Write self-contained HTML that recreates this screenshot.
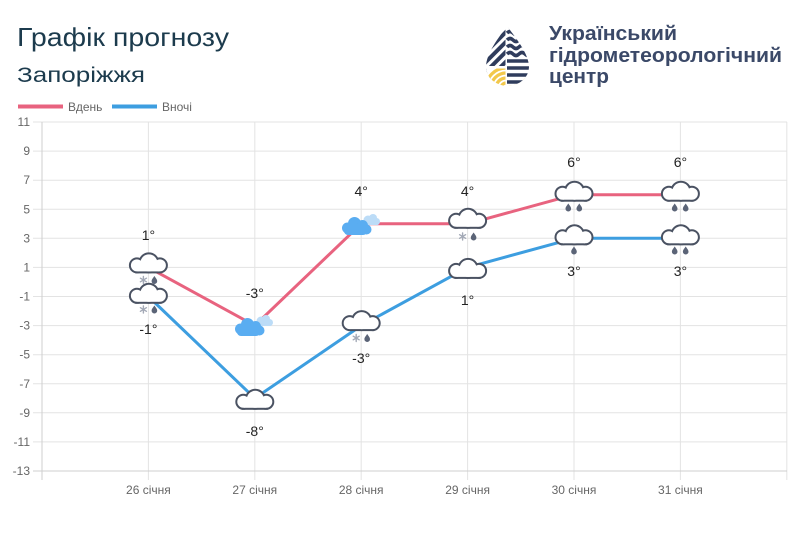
<!DOCTYPE html>
<html><head><meta charset="utf-8"><style>
html,body{margin:0;padding:0;background:#fff;}
svg{display:block;}
</style></head><body>
<svg width="804" height="536" viewBox="0 0 804 536" xmlns="http://www.w3.org/2000/svg" font-family="'Liberation Sans', sans-serif">
<defs>
  <g id="cloud">
    <g stroke="#4a5262" stroke-width="4" fill="#4a5262">
      <rect x="-11" y="2" width="22" height="7"/>
      <circle cx="-11.5" cy="3" r="6"/>
      <circle cx="0.5" cy="0.5" r="8.5"/>
      <circle cx="11.5" cy="3" r="6"/>
    </g>
    <g fill="#fff">
      <rect x="-11" y="2" width="22" height="7"/>
      <circle cx="-11.5" cy="3" r="6"/>
      <circle cx="0.5" cy="0.5" r="8.5"/>
      <circle cx="11.5" cy="3" r="6"/>
    </g>
  </g>
  <path id="drop" d="M0,-4 C1.2,-2.2 2.8,-0.6 2.8,1.2 A2.8,2.8 0 0 1 -2.8,1.2 C-2.8,-0.6 -1.2,-2.2 0,-4Z" fill="#5b6477"/>
  <g id="flake" stroke="#a3a9b6" stroke-width="1.4" stroke-linecap="round">
    <line x1="0" y1="-3.5" x2="0" y2="3.5"/>
    <line x1="-3" y1="-1.8" x2="3" y2="1.8"/>
    <line x1="-3" y1="1.8" x2="3" y2="-1.8"/>
  </g>
  <g id="snowcloud">
    <g fill="#bcdcf7">
      <circle cx="11" cy="-6" r="4.5"/>
      <circle cx="16" cy="-8" r="4"/>
      <circle cx="19.5" cy="-4.5" r="3.5"/>
      <rect x="9" y="-7" width="13" height="6" rx="2"/>
    </g>
    <g fill="#5aadf1">
      <circle cx="-9.5" cy="2" r="5.5"/>
      <circle cx="-2.5" cy="-2.5" r="6.5"/>
      <circle cx="5.5" cy="-0.5" r="5.5"/>
      <circle cx="9.5" cy="3.5" r="5"/>
      <rect x="-13" y="1" width="23" height="8" rx="4"/>
    </g>
  </g>
  <clipPath id="dropclip">
    <path d="M507,26 C500,36 486,53 486,67 A21.5,19 0 0 0 529,67 C529,53 514,36 507,26 Z"/>
  </clipPath>
</defs>

<!-- Titles -->
<text x="17" y="46" font-size="26" fill="#1c3b4d" textLength="212" lengthAdjust="spacingAndGlyphs">Графік прогнозу</text>
<text x="17" y="82" font-size="21" fill="#1c3b4d" textLength="128" lengthAdjust="spacingAndGlyphs">Запоріжжя</text>

<!-- Logo -->
<g clip-path="url(#dropclip)">
  <g fill="#2f3c5c">
    <g transform="rotate(-45 495 50)">
      <rect x="470" y="29" width="50" height="4"/>
      <rect x="470" y="36" width="50" height="4"/>
      <rect x="470" y="43" width="50" height="4"/>
      <rect x="470" y="50" width="50" height="4"/>
      <rect x="470" y="57" width="50" height="4"/>
      <rect x="470" y="64" width="50" height="4"/>
    </g>
  </g>
  <rect x="480" y="66" width="27" height="25" fill="#fff"/>
  <g fill="none" stroke="#f2c84b" stroke-width="3.2">
    <circle cx="506" cy="88" r="5"/>
    <circle cx="506" cy="88" r="10"/>
    <circle cx="506" cy="88" r="15"/>
    <circle cx="506" cy="88" r="20"/>
  </g>
  <rect x="480" y="66" width="27" height="2.5" fill="#fff"/>
  <rect x="505.5" y="20" width="35" height="72" fill="#fff"/>
  <g fill="none" stroke="#2f3c5c" stroke-width="3.5">
    <path d="M507,33 q3,-3 6,0 t6,0 t6,0"/>
    <path d="M507,40 q3,-3 6,0 t6,0 t6,0 t6,0"/>
    <path d="M507,47 q3,-3 6,0 t6,0 t6,0 t6,0"/>
    <path d="M507,54 q3,-3 6,0 t6,0 t6,0 t6,0"/>
    <path d="M507,61 h25"/>
    <path d="M507,68 h25"/>
    <path d="M507,75 h25"/>
    <path d="M507,82 h25"/>
  </g>
</g>
<g font-weight="bold" fill="#3b4968" font-size="20">
  <text x="549" y="40" textLength="128" lengthAdjust="spacingAndGlyphs">Український</text>
  <text x="549" y="62" textLength="233" lengthAdjust="spacingAndGlyphs">гідрометеорологічний</text>
  <text x="549" y="83" textLength="60" lengthAdjust="spacingAndGlyphs">центр</text>
</g>

<!-- Legend -->
<line x1="18" y1="106.5" x2="63" y2="106.5" stroke="#e8637f" stroke-width="4"/>
<text x="68" y="111" font-size="12" fill="#666">Вдень</text>
<line x1="112" y1="106.5" x2="157" y2="106.5" stroke="#3d9ee0" stroke-width="4"/>
<text x="162" y="111" font-size="12" fill="#666">Вночі</text>

<!-- Grid -->
<g stroke="#e3e3e3" stroke-width="1">
  <line x1="33" y1="122" x2="787" y2="122"/>
  <line x1="33" y1="151.1" x2="787" y2="151.1"/>
  <line x1="33" y1="180.2" x2="787" y2="180.2"/>
  <line x1="33" y1="209.3" x2="787" y2="209.3"/>
  <line x1="33" y1="238.3" x2="787" y2="238.3"/>
  <line x1="33" y1="267.4" x2="787" y2="267.4"/>
  <line x1="33" y1="296.5" x2="787" y2="296.5"/>
  <line x1="33" y1="325.6" x2="787" y2="325.6"/>
  <line x1="33" y1="354.7" x2="787" y2="354.7"/>
  <line x1="33" y1="383.8" x2="787" y2="383.8"/>
  <line x1="33" y1="412.8" x2="787" y2="412.8"/>
  <line x1="33" y1="441.9" x2="787" y2="441.9"/>
  <line x1="148.4" y1="122" x2="148.4" y2="480"/>
  <line x1="254.8" y1="122" x2="254.8" y2="480"/>
  <line x1="361.2" y1="122" x2="361.2" y2="480"/>
  <line x1="467.6" y1="122" x2="467.6" y2="480"/>
  <line x1="574" y1="122" x2="574" y2="480"/>
  <line x1="680.4" y1="122" x2="680.4" y2="480"/>
  <line x1="786.8" y1="122" x2="786.8" y2="480"/>
</g>
<g stroke="#cfcfcf" stroke-width="1">
  <line x1="33" y1="471" x2="787" y2="471"/>
  <line x1="42" y1="122" x2="42" y2="480"/>
</g>

<!-- Y labels -->
<g font-size="12" fill="#666" text-anchor="end">
  <text x="30" y="126">11</text>
  <text x="30" y="155.1">9</text>
  <text x="30" y="184.2">7</text>
  <text x="30" y="213.3">5</text>
  <text x="30" y="242.3">3</text>
  <text x="30" y="271.4">1</text>
  <text x="30" y="300.5">-1</text>
  <text x="30" y="329.6">-3</text>
  <text x="30" y="358.7">-5</text>
  <text x="30" y="387.8">-7</text>
  <text x="30" y="416.8">-9</text>
  <text x="30" y="445.9">-11</text>
  <text x="30" y="475">-13</text>
</g>
<!-- X labels -->
<g font-size="12" fill="#666" text-anchor="middle">
  <text x="148.4" y="494">26 січня</text>
  <text x="254.8" y="494">27 січня</text>
  <text x="361.2" y="494">28 січня</text>
  <text x="467.6" y="494">29 січня</text>
  <text x="574" y="494">30 січня</text>
  <text x="680.4" y="494">31 січня</text>
</g>

<!-- Series lines -->
<polyline fill="none" stroke="#e8637f" stroke-width="3" stroke-linejoin="round"
  points="148.4,267.4 254.8,325.6 361.2,223.8 467.6,223.8 574,194.7 680.4,194.7"/>
<polyline fill="none" stroke="#3d9ee0" stroke-width="3" stroke-linejoin="round"
  points="148.4,296.5 254.8,398.3 361.2,325.6 467.6,267.4 574,238.3 680.4,238.3"/>

<!-- Icons: day -->
<use href="#cloud" x="148.4" y="262.4"/>
<use href="#flake" x="143.4" y="280"/>
<use href="#drop" x="154.4" y="280"/>

<use href="#snowcloud" x="250" y="327"/>

<use href="#snowcloud" x="357" y="226"/>

<use href="#cloud" x="467.6" y="217.8"/>
<use href="#flake" x="462.6" y="236.5"/>
<use href="#drop" x="473.6" y="236.5"/>

<use href="#cloud" x="574" y="190.7"/>
<use href="#drop" x="568.3" y="207.5"/>
<use href="#drop" x="579.3" y="207.5"/>

<use href="#cloud" x="680.4" y="190.7"/>
<use href="#drop" x="674.7" y="207.5"/>
<use href="#drop" x="685.7" y="207.5"/>

<!-- Icons: night -->
<use href="#cloud" x="148.4" y="292.8"/>
<use href="#flake" x="143.4" y="309.5"/>
<use href="#drop" x="154.4" y="309.5"/>

<use href="#cloud" x="254.8" y="398.8"/>

<use href="#cloud" x="361.2" y="320.1"/>
<use href="#flake" x="356.2" y="338"/>
<use href="#drop" x="367.2" y="338"/>

<use href="#cloud" x="467.6" y="267.9"/>

<use href="#cloud" x="574" y="234.3"/>
<use href="#drop" x="574" y="250.5"/>

<use href="#cloud" x="680.4" y="234.3"/>
<use href="#drop" x="674.7" y="250.5"/>
<use href="#drop" x="685.7" y="250.5"/>

<!-- Value labels -->
<g font-size="14" fill="#222" text-anchor="middle">
  <text x="148.4" y="240">1°</text>
  <text x="254.8" y="298">-3°</text>
  <text x="361.2" y="196">4°</text>
  <text x="467.6" y="196">4°</text>
  <text x="574" y="167">6°</text>
  <text x="680.4" y="167">6°</text>

  <text x="148.4" y="334">-1°</text>
  <text x="254.8" y="436">-8°</text>
  <text x="361.2" y="363">-3°</text>
  <text x="467.6" y="305">1°</text>
  <text x="574" y="276">3°</text>
  <text x="680.4" y="276">3°</text>
</g>
</svg>
</body></html>
